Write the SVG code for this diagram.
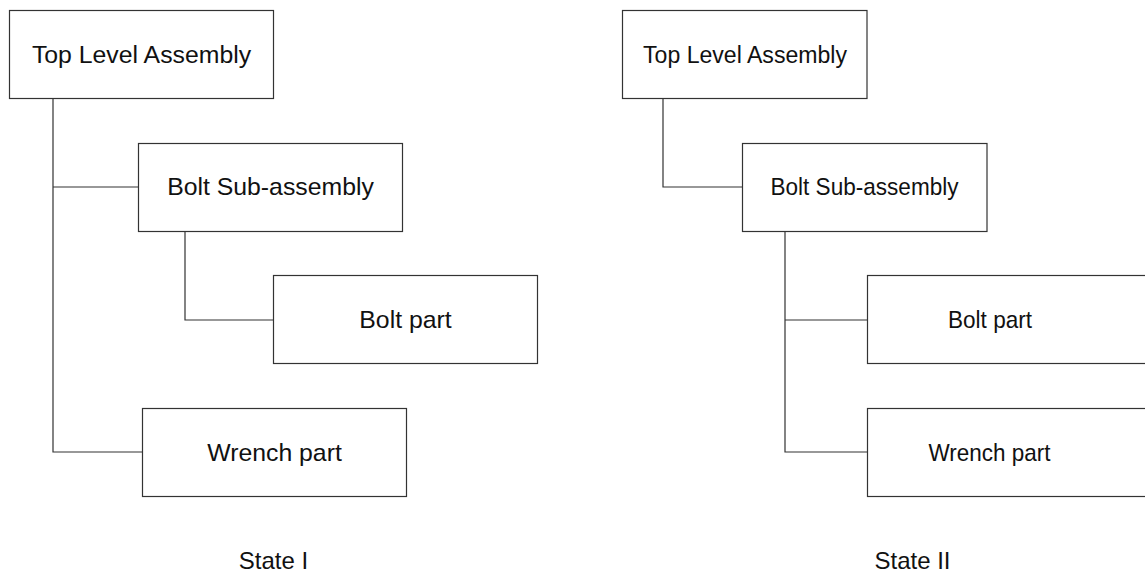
<svg xmlns="http://www.w3.org/2000/svg" width="1145" height="574" viewBox="0 0 1145 574">
  <style>
    .box { fill: #ffffff; stroke: #333333; stroke-width: 1.2; }
    .link { fill: none; stroke: #333333; stroke-width: 1.2; }
    .label { font-family: "Liberation Sans", Arial, sans-serif; font-size: 24.8px; fill: #111111; text-anchor: middle; }
    .caption { font-family: "Liberation Sans", Arial, sans-serif; font-size: 24px; fill: #111111; text-anchor: middle; }
  </style>
  <rect width="1145" height="574" fill="#ffffff"/>

  <!-- connectors -->
  <g id="connectors">
    <!-- State I -->
    <polyline class="link" points="53,98 53,452 142,452"/>
    <line class="link" x1="53" y1="187" x2="138.5" y2="187"/>
    <polyline class="link" points="185,231 185,320 273.5,320"/>
    <!-- State II -->
    <polyline class="link" points="663,98 663,187 742,187"/>
    <polyline class="link" points="785,231 785,452 867,452"/>
    <line class="link" x1="785" y1="320" x2="867" y2="320"/>
  </g>

  <!-- State I nodes -->
  <g id="s1-top">
    <rect class="box" x="9.5" y="10.5" width="264" height="88"/>
    <text class="label" x="141.5" y="63">Top Level Assembly</text>
  </g>
  <g id="s1-bolt-sub">
    <rect class="box" x="138.5" y="143.5" width="264" height="88"/>
    <text class="label" x="270.5" y="195">Bolt Sub-assembly</text>
  </g>
  <g id="s1-bolt-part">
    <rect class="box" x="273.5" y="275.5" width="264" height="88"/>
    <text class="label" x="405.5" y="328">Bolt part</text>
  </g>
  <g id="s1-wrench-part">
    <rect class="box" x="142.5" y="408.5" width="264" height="88"/>
    <text class="label" x="274.5" y="461">Wrench part</text>
  </g>

  <!-- State II nodes -->
  <g id="s2-top">
    <rect class="box" x="622.5" y="10.5" width="244.5" height="88"/>
    <text class="label" x="745" y="63" textLength="204" lengthAdjust="spacingAndGlyphs">Top Level Assembly</text>
  </g>
  <g id="s2-bolt-sub">
    <rect class="box" x="742.5" y="143.5" width="244.5" height="88"/>
    <text class="label" x="864.5" y="195" textLength="188" lengthAdjust="spacingAndGlyphs">Bolt Sub-assembly</text>
  </g>
  <g id="s2-bolt-part">
    <rect class="box" x="867.5" y="275.5" width="290" height="88"/>
    <text class="label" x="990" y="328" textLength="84" lengthAdjust="spacingAndGlyphs">Bolt part</text>
  </g>
  <g id="s2-wrench-part">
    <rect class="box" x="867.5" y="408.5" width="290" height="88"/>
    <text class="label" x="989.5" y="461" textLength="122" lengthAdjust="spacingAndGlyphs">Wrench part</text>
  </g>

  <!-- captions -->
  <text class="caption" x="273.5" y="569">State I</text>
  <text class="caption" x="912.5" y="569">State II</text>
</svg>
